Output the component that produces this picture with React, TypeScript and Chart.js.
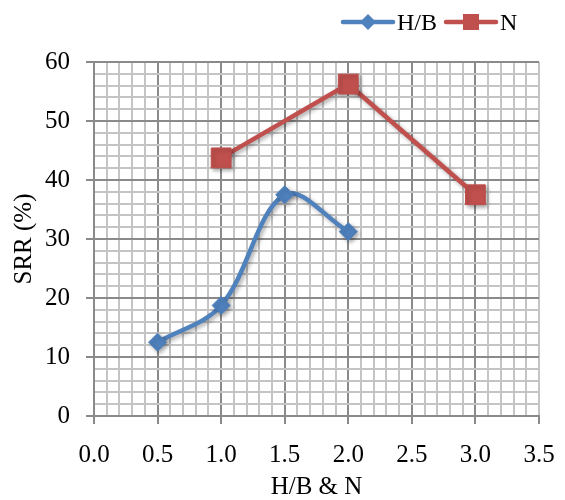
import { useEffect, useRef } from 'react';
import { Chart, registerables } from 'chart.js';

Chart.register(...registerables);

// ---- data ----
const hbX = [0.5, 1.0, 1.5, 2.0];
const hbY = [12.5, 18.75, 37.5, 31.25];
const nX = [1.0, 2.0, 3.0];
const nY = [43.75, 56.25, 37.5];
const seriesNames = ['H/B', 'N'];
const xTitle = 'H/B & N';
const yTitle = 'SRR (%)';

const BLUE = '#4F81BD';
const RED = '#C0504D';
const MAJOR = '#8a8a8a';
const MINOR = '#c4c4c4';
const FONT = '"Liberation Serif", "Times New Roman", serif';
const FS = 25;

const near = (v: number, step: number) => Math.abs(v / step - Math.round(v / step)) < 1e-6;

const shadowPlugin = {
  id: 'lineShadow',
  beforeDatasetsDraw(chart: any) {
    const ctx = chart.ctx;
    ctx.save();
    ctx.shadowColor = 'rgba(0,0,0,0.35)';
    ctx.shadowBlur = 4;
    ctx.shadowOffsetX = 2;
    ctx.shadowOffsetY = 2;
  },
  afterDatasetsDraw(chart: any) {
    chart.ctx.restore();
  },
};

const legendPlugin = {
  id: 'excelLegend',
  afterDraw(chart: any) {
    const ctx = chart.ctx as CanvasRenderingContext2D;
    const y = 23;
    const items = [
      { label: seriesNames[0], color: BLUE, style: 'diamond', x: 343 },
      { label: seriesNames[1], color: RED, style: 'square', x: 446 },
    ];
    ctx.save();
    ctx.font = `24px ${FONT}`;
    ctx.textBaseline = 'middle';
    ctx.textAlign = 'left';
    for (const it of items) {
      ctx.strokeStyle = it.color;
      ctx.lineWidth = 4.5;
      ctx.lineCap = 'round';
      ctx.beginPath();
      ctx.moveTo(it.x, y - 1);
      ctx.lineTo(it.x + 50, y - 1);
      ctx.stroke();
      const cx = it.x + 25;
      ctx.fillStyle = it.color;
      ctx.beginPath();
      if (it.style === 'diamond') {
        const r = 8;
        ctx.moveTo(cx, y - 1 - r);
        ctx.lineTo(cx + r, y - 1);
        ctx.lineTo(cx, y - 1 + r);
        ctx.lineTo(cx - r, y - 1);
        ctx.closePath();
      } else {
        const h = 8;
        ctx.rect(cx - h, y - 1 - h, 2 * h, 2 * h);
      }
      ctx.fill();
      ctx.fillStyle = '#000';
      ctx.fillText(it.label, it.x + 54, y + 1);
    }
    ctx.restore();
  },
};

export default function App() {
  const ref = useRef<HTMLCanvasElement | null>(null);

  useEffect(() => {
    document.body.style.margin = '0';
    if (!ref.current) return;
    Chart.defaults.font.family = FONT;
    const chart = new Chart(ref.current, {
      type: 'line',
      data: {
        datasets: [
          {
            label: seriesNames[0],
            data: hbX.map((x, i) => ({ x, y: hbY[i] })),
            borderColor: BLUE,
            backgroundColor: BLUE,
            borderWidth: 4.5,
            tension: 0.35,
            pointStyle: 'rectRot',
            pointRadius: 9,
            pointBorderWidth: 1,
            pointBorderColor: BLUE,
            pointBackgroundColor: BLUE,
          },
          {
            label: seriesNames[1],
            data: nX.map((x, i) => ({ x, y: nY[i] })),
            borderColor: RED,
            backgroundColor: RED,
            borderWidth: 4.5,
            tension: 0,
            pointStyle: 'rect',
            pointRadius: 14,
            pointBorderWidth: 1,
            pointBorderColor: RED,
            pointBackgroundColor: RED,
          },
        ],
      },
      options: {
        responsive: false,
        animation: false,
        layout: { padding: { left: 0, top: 62, right: 26, bottom: 0 } },
        plugins: { legend: { display: false }, tooltip: { enabled: false } },
        scales: {
          x: {
            type: 'linear',
            min: 0,
            max: 3.5,
            afterFit: (s: any) => {
              s.height = 84;
              s.paddingLeft = 0;
              s.paddingRight = 0;
            },
            ticks: {
              stepSize: 0.1,
              autoSkip: false,
              maxRotation: 0,
              padding: 16,
              color: '#000',
              font: { size: FS, family: FONT },
              callback: (v: any) => (near(Number(v), 0.5) ? Number(v).toFixed(1) : ''),
            },
            grid: {
              lineWidth: 2,
              tickLength: 8,
              color: (c: any) => {
                const v = c.tick ? c.tick.value : 0;
                return near(v, 0.5) && v < 3.45 ? MAJOR : MINOR;
              },
              tickColor: (c: any) => {
                const v = c.tick ? c.tick.value : 0;
                return near(v, 0.5) ? MAJOR : 'rgba(0,0,0,0)';
              },
            },
            border: { display: true, color: MAJOR, width: 2 },
            title: {
              display: true,
              text: xTitle,
              color: '#000',
              font: { size: FS, family: FONT },
              padding: { top: 0, bottom: -2 },
            },
          },
          y: {
            min: 0,
            max: 60,
            afterFit: (s: any) => { s.width = 94; },
            ticks: {
              stepSize: 2,
              autoSkip: false,
              padding: 16,
              color: '#000',
              font: { size: FS, family: FONT },
              callback: (v: any) => (near(Number(v), 10) ? String(v) : ''),
            },
            grid: {
              lineWidth: 2,
              tickLength: 8,
              color: (c: any) => {
                const v = c.tick ? c.tick.value : 0;
                return near(v, 10) ? MAJOR : MINOR;
              },
              tickColor: (c: any) => {
                const v = c.tick ? c.tick.value : 0;
                return near(v, 10) ? MAJOR : 'rgba(0,0,0,0)';
              },
            },
            border: { display: true, color: MAJOR, width: 2 },
            title: {
              display: true,
              text: yTitle,
              color: '#000',
              font: { size: FS, family: FONT },
              padding: { top: 9, bottom: 0 },
            },
          },
        },
      },
      plugins: [shadowPlugin, legendPlugin],
    });
    return () => chart.destroy();
  }, []);

  return (
    <div style={{ width: 565, height: 500 }}>
      <canvas ref={ref} width={565} height={500} style={{ display: 'block' }} />
    </div>
  );
}
